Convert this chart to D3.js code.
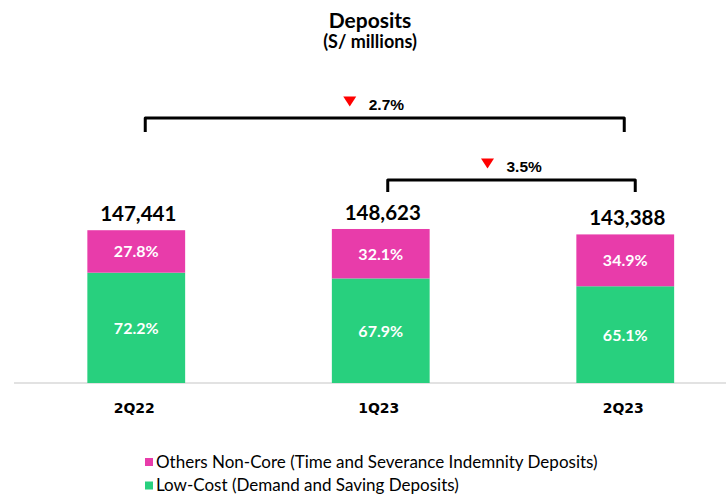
<!DOCTYPE html>
<html>
<head>
<meta charset="utf-8">
<script src="https://cdn.jsdelivr.net/npm/d3@7"></script>
<style>
  body { margin: 0; background: #fff; }
  svg { display: block; }
</style>
</head>
<body>
<svg id="chart" width="726" height="497"></svg>
<script>
// Data
const categories = ["2Q22", "1Q23", "2Q23"];
const totals = [147441, 148623, 143388];
const lowCostPct = [72.2, 67.9, 65.1];
const otherPct = [27.8, 32.1, 34.9];
const seriesNames = [
  "Others Non-Core (Time and Severance Indemnity Deposits)",
  "Low-Cost (Demand and Saving Deposits)"
];
const changes = [
  { from: 0, to: 2, label: "2.7%" },
  { from: 1, to: 2, label: "3.5%" }
];

const PINK = "#e83caa";
const GREEN = "#28d07e";

const svg = d3.select("#chart");

const x = d3.scaleBand()
  .domain(categories)
  .range([14, 747.5])
  .paddingInner(0.6)
  .paddingOuter(0.3);

const y = d3.scaleLinear()
  .domain([0, 160000])
  .range([383, 217.2]);

// Title
svg.append("text")
  .attr("x", 370).attr("y", 28)
  .attr("text-anchor", "middle")
  .style("font-family", "Lato")
  .style("font-weight", "bold")
  .style("font-size", "21px")
  .text("Deposits");

svg.append("text")
  .attr("x", 370).attr("y", 48)
  .attr("text-anchor", "middle")
  .style("font-family", "Lato")
  .style("font-weight", "bold")
  .style("font-size", "18px")
  .text("(S/ millions)");

// Baseline
svg.append("line")
  .attr("x1", 14).attr("x2", 726)
  .attr("y1", 383).attr("y2", 383)
  .style("stroke", "#d9d9d9")
  .style("stroke-width", 1.5);

// Stacked bars
const rows = categories.map((c, i) => ({
  cat: c,
  total: totals[i],
  low: totals[i] * lowCostPct[i] / 100,
  lowPct: lowCostPct[i],
  otherPct: otherPct[i]
}));

const bars = svg.append("g").selectAll("g")
  .data(rows)
  .join("g");

bars.append("rect")
  .attr("x", d => x(d.cat))
  .attr("width", x.bandwidth())
  .attr("y", d => y(d.low))
  .attr("height", d => y(0) - y(d.low))
  .style("fill", GREEN);

bars.append("rect")
  .attr("x", d => x(d.cat))
  .attr("width", x.bandwidth())
  .attr("y", d => y(d.total))
  .attr("height", d => y(d.low) - y(d.total))
  .style("fill", PINK);

const cx = d => x(d.cat) + x.bandwidth() / 2;

// Segment labels
bars.append("text")
  .attr("x", cx)
  .attr("y", d => (y(0) + y(d.low)) / 2 + 6)
  .attr("text-anchor", "middle")
  .style("font-family", "Lato")
  .style("font-weight", "bold")
  .style("font-size", "16px")
  .style("fill", "#fff")
  .text(d => d.lowPct.toFixed(1) + "%");

bars.append("text")
  .attr("x", cx)
  .attr("y", d => (y(d.low) + y(d.total)) / 2 + 6)
  .attr("text-anchor", "middle")
  .style("font-family", "Lato")
  .style("font-weight", "bold")
  .style("font-size", "16px")
  .style("fill", "#fff")
  .text(d => d.otherPct.toFixed(1) + "%");

// Totals
bars.append("text")
  .attr("x", d => cx(d) + 2)
  .attr("y", d => y(d.total) - 9)
  .attr("text-anchor", "middle")
  .style("font-family", "Lato")
  .style("font-weight", "bold")
  .style("font-size", "20.5px")
  .style("fill", "#000")
  .text(d => d3.format(",")(d.total));

// Category labels
bars.append("text")
  .attr("x", d => cx(d) - 2)
  .attr("y", 413)
  .attr("text-anchor", "middle")
  .style("font-family", "DejaVu Sans")
  .style("font-weight", "bold")
  .style("font-size", "14px")
  .style("fill", "#000")
  .text(d => d.cat);

// Change brackets (layout: bracket height, leg length, end offsets, label shift)
const bracketLayout = [
  { top: 118, leg: 14, dx1: 9, dx2: -1, labelDx: -10 },
  { top: 180, leg: 12, dx1: 7, dx2: 10, labelDx: 1 }
];

changes.forEach((c, i) => {
  const L = bracketLayout[i];
  const x1 = x(categories[c.from]) + x.bandwidth() / 2 + L.dx1;
  const x2 = x(categories[c.to]) + x.bandwidth() / 2 + L.dx2;
  svg.append("path")
    .attr("d", `M${x1},${L.top + L.leg} V${L.top} H${x2} V${L.top + L.leg}`)
    .style("fill", "none")
    .style("stroke", "#000")
    .style("stroke-width", 3)
    .style("stroke-linejoin", "round");

  const mid = (x1 + x2) / 2 + L.labelDx;
  const g = svg.append("g").attr("transform", `translate(${mid},${L.top})`);
  g.append("path")
    .attr("d", "M-31.5,-21.5 L-18.5,-21.5 L-25,-11.5 Z")
    .style("fill", "#ff0000");
  g.append("text")
    .attr("x", -6).attr("y", -8.5)
    .style("font-family", "Liberation Sans")
    .style("font-weight", "bold")
    .style("font-size", "15.5px")
    .style("fill", "#000")
    .text(c.label);
});

// Legend
const legend = svg.append("g").selectAll("g")
  .data(seriesNames)
  .join("g")
  .attr("transform", (d, i) => `translate(145,${458 + i * 23.5})`);

legend.append("rect")
  .attr("width", 8).attr("height", 8)
  .style("fill", (d, i) => i === 0 ? PINK : GREEN);

legend.append("text")
  .attr("x", 11).attr("y", 9.5)
  .style("font-family", "Lato")
  .style("font-size", "17px")
  .style("fill", "#000")
  .text(d => d);
</script>
</body>
</html>
